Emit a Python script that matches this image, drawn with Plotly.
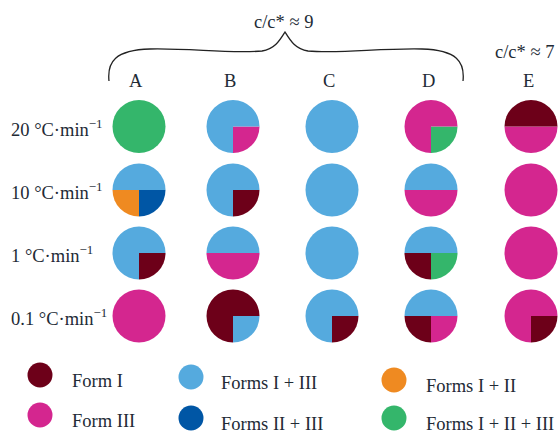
import plotly.graph_objects as go

# ---------------- data ----------------
samples = ["A", "B", "C", "D", "E"]
rates = ["20 °C·min<sup>−1</sup>", "10 °C·min<sup>−1</sup>",
         "1 °C·min<sup>−1</sup>", "0.1 °C·min<sup>−1</sup>"]
forms = ["Form I", "Form III", "Forms I + III", "Forms II + III",
         "Forms I + II", "Forms I + II + III"]
form_colors = ["#6d0019", "#d4268f", "#55aade", "#0056a5", "#ef8a21", "#34b66b"]

# quadrant composition (top-right, bottom-right, bottom-left, top-left), as form index
I, III, I3, II3, I2, I23 = 0, 1, 2, 3, 4, 5
row_20 = [[I23, I23, I23, I23], [I3, III, I3, I3], [I3, I3, I3, I3],
          [III, I23, III, III], [I, III, III, I]]
row_10 = [[I3, II3, I2, I3], [I3, I, I3, I3], [I3, I3, I3, I3],
          [I3, III, III, I3], [III, III, III, III]]
row_1 = [[I3, I, I3, I3], [I3, III, III, I3], [I3, I3, I3, I3],
         [I3, I23, I, I3], [III, III, III, III]]
row_01 = [[III, III, III, III], [I, I3, I, I], [I3, I, I3, I3],
          [I3, III, I, I3], [III, I, III, III]]
grid_rows = [row_20, row_10, row_1, row_01]

ctitle_9 = "c/c* ≈ 9"
ctitle_7 = "c/c* ≈ 7"

# ---------------- layout constants ----------------
W, H = 558, 433
col_cx = [139, 233, 332, 431, 531]
row_cy = [126.5, 190, 253, 316]
R = 26.5
FONT = "Liberation Serif"
TXT = "#222a35"
FS = 18.5


def px_domain(cx, cy, r):
    return dict(x=[(cx - r) / W, (cx + r) / W],
                y=[1 - (cy + r) / H, 1 - (cy - r) / H])


def runs(q):
    """merge contiguous equal quadrants; returns (rotation, values, form indices)"""
    if all(v == q[0] for v in q):
        return 0, [1], [q[0]]
    s = next(i for i in range(4) if q[i] != q[i - 1])
    seq = [q[(s + k) % 4] for k in range(4)]
    vals, idx = [], []
    for v in seq:
        if idx and idx[-1] == v:
            vals[-1] += 1
        else:
            idx.append(v)
            vals.append(1)
    return s * 90, vals, idx


fig = go.Figure()

for r, row in enumerate(grid_rows):
    for c, quad in enumerate(row):
        rot, vals, idx = runs(quad)
        fig.add_trace(go.Pie(
            values=vals,
            labels=[f"s{k}" for k in range(len(vals))],
            text=[forms[i] for i in idx],
            marker=dict(colors=[form_colors[i] for i in idx], line=dict(width=0)),
            sort=False, direction="clockwise", rotation=rot,
            textinfo="none", hoverinfo="text", showlegend=False,
            domain=px_domain(col_cx[c], row_cy[r], R),
        ))

# legend drawn as markers on a pixel-space overlay axis
leg_x = [40, 191, 394]
leg_y = [[375, 415], [377, 418], [380, 418]]
leg_order = [[0, 1], [2, 3], [4, 5]]
leg_tx = [70, 219, 424]
for col in range(3):
    for k in range(2):
        fi = leg_order[col][k]
        fig.add_trace(go.Scatter(
            x=[leg_x[col]], y=[leg_y[col][k]], mode="markers",
            marker=dict(size=25, color=form_colors[fi], line=dict(width=0)),
            hoverinfo="skip", showlegend=False, xaxis="x", yaxis="y"))
        fig.add_annotation(x=leg_tx[col], y=leg_y[col][k] + 6, xref="x", yref="y",
                           text=forms[fi], showarrow=False, xanchor="left",
                           yanchor="middle", font=dict(family=FONT, size=FS, color=TXT))

for r, lab in enumerate(rates):
    fig.add_annotation(x=9, y=row_cy[r] + 1, xref="x", yref="y", text=lab,
                       showarrow=False, xanchor="left", yanchor="middle",
                       font=dict(family=FONT, size=FS, color=TXT))
for c, lab in enumerate(samples):
    fig.add_annotation(x=col_cx[c] - 3, y=81, xref="x", yref="y", text=lab,
                       showarrow=False, xanchor="center", yanchor="middle",
                       font=dict(family=FONT, size=FS, color=TXT))

fig.add_annotation(x=283, y=22, xref="x", yref="y", text=ctitle_9, showarrow=False,
                   xanchor="center", yanchor="middle",
                   font=dict(family=FONT, size=FS, color=TXT))
fig.add_annotation(x=524, y=52, xref="x", yref="y", text=ctitle_7, showarrow=False,
                   xanchor="center", yanchor="middle",
                   font=dict(family=FONT, size=FS, color=TXT))

brace = ("M 109,81 C 107,62 115,50 150,49 C 190,48 230,54 262,51 "
         "C 275,49 280,40 285,32 C 290,40 295,49 308,51 "
         "C 340,54 380,48 422,49 C 457,50 465,62 463,81")
fig.add_shape(type="path", path=brace, xref="x", yref="y",
              line=dict(color="#222222", width=1.3))

fig.update_layout(
    width=W, height=H, autosize=False,
    margin=dict(l=0, r=0, t=0, b=0),
    paper_bgcolor="white", plot_bgcolor="rgba(0,0,0,0)",
    xaxis=dict(range=[0, W], visible=False, domain=[0, 1], fixedrange=True),
    yaxis=dict(range=[H, 0], visible=False, domain=[0, 1], fixedrange=True),
    showlegend=False,
)

fig.write_html("out.html",
               config={"displayModeBar": False},
               post_script="document.body.style.margin='0';"
                           "document.body.style.overflow='hidden';")
